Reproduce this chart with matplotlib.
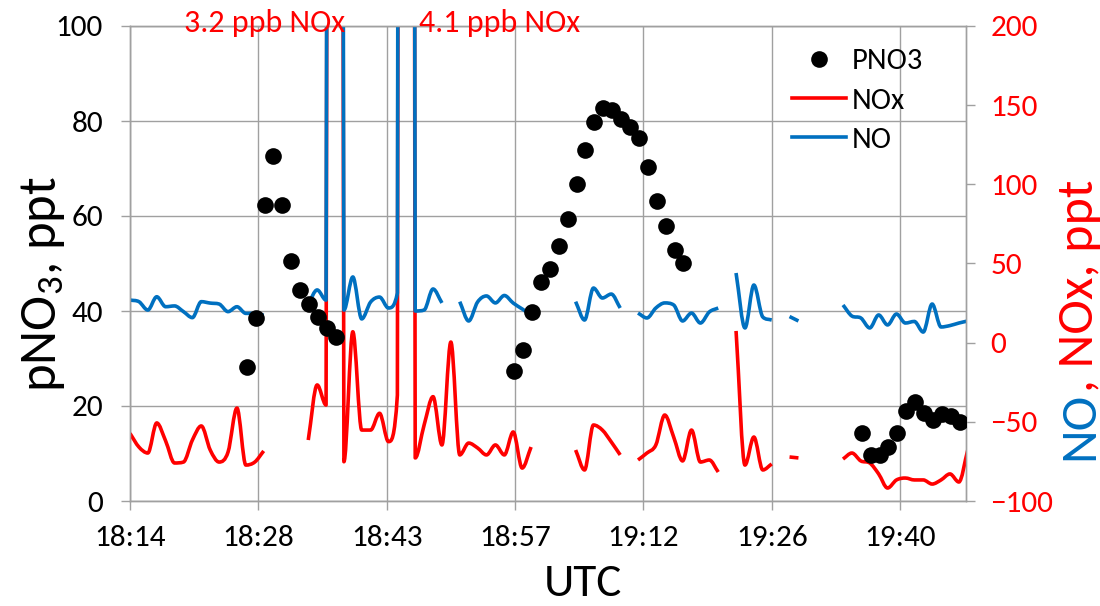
import numpy as np
import matplotlib
matplotlib.use("Agg")
import matplotlib.pyplot as plt
from matplotlib import font_manager as fm
from matplotlib.lines import Line2D
from matplotlib.patches import PathPatch
from matplotlib.path import Path
from matplotlib.ticker import FixedLocator, FuncFormatter, MultipleLocator


def have(name):
    try:
        fm.findfont(fm.FontProperties(family=name), fallback_to_default=False)
        return True
    except ValueError:
        return False


FONT = next(f for f in ["Carlito", "Liberation Sans Narrow", "Liberation Sans", "DejaVu Sans"] if have(f))
plt.rcParams.update({"font.family": [FONT, "DejaVu Sans"], "mathtext.default": "regular"})

# minutes after 18:00 UTC; NO/NOx are 1-min samples starting 18:14:24
t0 = 14.4
nox = [-57.3, -65.9, -69.7, -50.7, -62.1, -76.0, -75.4, -61.5, -52.6, -67.8, -75.4, -69.1, -41.3, -77.3, -75.4, -68.4,
       np.nan, np.nan, np.nan, np.nan,
       -61.5, -26.7, -39.4, 3200, -75.2, 6.9, -55.2, -55.2, -44.6, -62.5, -33.1, 4100, -72.8, -52.0, -34.1, -64.6,
       0.4, -70.9, -63.4, -66.5, -70.9, -64.6, -70.9, -56.4, -79.2, -65.9,
       np.nan, np.nan, np.nan, np.nan,
       -67.8, -80.4, -52.0, -55.2, -62.7, -70.9,
       np.nan,
       -74.1, -69.7, -64.6, -45.7, -59.6, -74.7, -55.2, -75.4, -74.1, -81.7,
       np.nan,
       7.4, -77.3, -59.6, -80.4, -76.6,
       np.nan,
       -72.2, -72.8,
       np.nan, np.nan, np.nan, np.nan,
       -73.5, -69.7, -74.7, -76.0, -82.9, -91.8, -86.7, -85.5, -86.7, -86.7, -89.3, -86.7, -82.9, -88.0, -67.8]
no = [26.9, 25.9, 20.6, 29.0, 22.7, 23.2, 19.6, 15.8, 25.9, 25.0, 24.4, 19.6, 22.7, 18.5, 18.5, 17.3,
      np.nan, np.nan, np.nan, np.nan,
      24.4, 33.3, 26.9, 3000, 20.6, 41.5, 15.0, 25.7, 28.8, 21.9, 31.4, 3900, 20.0, 20.6, 33.9, 25.1,
      np.nan, 25.9, 13.7, 25.7, 29.5, 25.1, 29.8, 25.0, 21.3, 17.5,
      np.nan, np.nan, np.nan, np.nan,
      25.9, 14.3, 34.5, 28.2, 30.7, 21.9,
      np.nan,
      18.7, 15.6, 21.9, 25.1, 23.8, 13.7, 18.7, 12.4, 19.4, 21.9,
      np.nan,
      44.0, 9.3, 36.4, 16.2, 14.3,
      np.nan,
      16.5, 13.7,
      np.nan, np.nan, np.nan, np.nan,
      23.8, 16.8, 15.6, 9.3, 17.5, 11.2, 18.1, 12.4, 13.4, 6.7, 24.4, 9.9, 10.8, 12.4, 13.7]
t_line = t0 + np.arange(len(nox))

# particulate nitrate, three sampling runs (start minute, 1-min values)
pno3_runs = [
    (27.5, [28.2, 38.6, 62.3, 72.7, 62.3, 50.6, 44.4, 41.4, 38.8, 36.4, 34.5]),
    (57.5, [27.4, 31.8, 39.7, 46.2, 48.8, 53.7, 59.3, 66.7, 73.8, 79.7, 82.7, 82.3, 80.5, 78.7, 76.4, 70.4,
            63.2, 57.8, 52.8, 50.1]),
    (96.5, [14.3, 9.7, 9.7, 11.3, 14.3, 19.0, 20.8, 18.6, 17.1, 18.4, 17.9, 16.6]),
]
x_ticks = [14.4, 28.8, 43.2, 57.6, 72.0, 86.4, 100.8]
notes = [(29.5, "3.2 ppb NOx"), (55.9, "4.1 ppb NOx")]

RED, BLUE, GRID = "#FF0000", "#0070C0", "#A0A0A0"
LW = 2.6


def smooth_path(x, y, spike=1000):
    """Excel-style smoothed line: cubic Bezier per segment, breaks at gaps,
    straight segments into/out of off-scale spikes."""
    x, y = np.asarray(x, float), np.asarray(y, float)
    verts, codes = [], []
    idx = np.flatnonzero(~np.isnan(y))
    runs = np.split(idx, np.flatnonzero(np.diff(idx) > 1) + 1)
    for r in runs:
        xs, ys = x[r], y[r]
        if len(xs) < 2:
            continue
        d = np.diff(ys) / np.diff(xs)
        m = np.empty_like(ys)
        m[0], m[-1] = d[0], d[-1]
        for i in range(1, len(ys) - 1):
            if d[i - 1] * d[i] <= 0:
                m[i] = 0.0
            else:
                m[i] = np.sign(d[i]) * min(abs(d[i - 1] + d[i]) / 2, 3 * min(abs(d[i - 1]), abs(d[i])))
        verts.append((xs[0], ys[0]))
        codes.append(Path.MOVETO)
        for i in range(len(xs) - 1):
            if max(abs(ys[i]), abs(ys[i + 1])) > spike:
                verts.append((xs[i + 1], ys[i + 1]))
                codes.append(Path.LINETO)
                continue
            h = (xs[i + 1] - xs[i]) / 3
            verts += [(xs[i] + h, ys[i] + m[i] * h), (xs[i + 1] - h, ys[i + 1] - m[i + 1] * h),
                      (xs[i + 1], ys[i + 1])]
            codes += [Path.CURVE4] * 3
    return Path(verts, codes)


fig = plt.figure(figsize=(11, 6.06), dpi=100)
ax = fig.add_axes([130 / 1100, 1 - 501 / 606, 836 / 1100, 475 / 606])
ax2 = ax.twinx()
ax3 = ax.twinx()

ax.set_xlim(14.4, 108.2)
ax.set_ylim(0, 100)
ax2.set_ylim(-100, 200)
ax3.set_ylim(0, 100)
ax3.axis("off")

ax.xaxis.set_major_locator(FixedLocator(x_ticks))
ax.xaxis.set_major_formatter(FuncFormatter(lambda m, _: f"{18 + int(m // 60)}:{int(m % 60 + 1e-6):02d}"))
ax.yaxis.set_major_locator(MultipleLocator(20))
ax2.yaxis.set_major_locator(MultipleLocator(50))
ax.grid(True, color=GRID, lw=1.0)
ax.set_axisbelow(True)

for a in (ax, ax2):
    for s in a.spines.values():
        s.set_color(GRID)
        s.set_linewidth(1.0)
ax.tick_params(axis="both", colors=GRID, labelcolor="black", labelsize=22.5, length=6.5, width=1.0)
ax.tick_params(axis="x", pad=11)
ax.tick_params(axis="y", pad=13)
ax2.tick_params(axis="y", colors=GRID, labelcolor=RED, labelsize=22.5, length=6.5, width=1.0, pad=11)

for series, col in ((nox, RED), (no, BLUE)):
    ax2.add_patch(PathPatch(smooth_path(t_line, series), fill=False, edgecolor=col, lw=LW,
                            capstyle="butt", joinstyle="round"))
for start, vals in pno3_runs:
    ax3.plot(start + np.arange(len(vals)), vals, "o", color="black", ms=12, mew=0, ls="none")

for x, s in notes:
    ax3.text(x, 100.6, s, color=RED, fontsize=23, ha="center", va="center", clip_on=False, zorder=10)

handles = [Line2D([], [], marker="o", color="black", ms=12, mew=0, ls="none"),
           Line2D([], [], color=RED, lw=LW),
           Line2D([], [], color=BLUE, lw=LW)]
ax3.legend(handles, ["PNO3", "NOx", "NO"], loc="upper left", bbox_to_anchor=(792 / 1100, 1 - 48 / 606),
           bbox_transform=fig.transFigure, frameon=False, fontsize=22, borderpad=0, borderaxespad=0,
           handlelength=1.76, handletextpad=0.2, labelspacing=0.42, numpoints=1)

fig.text(43 / 1100, 1 - 284 / 606, "pNO$_3$, ppt", rotation=90, fontsize=38, ha="center", va="center")
fig.text(583 / 1100, 1 - 583 / 606, "UTC", fontsize=34, ha="center", va="center")
t_no = fig.text(1079 / 1100, 1 - 460 / 606, "NO", rotation=90, fontsize=37.5, color=BLUE, ha="center", va="bottom")
ax3.annotate(", NOx, ppt", xy=(0.5, 1.0), xycoords=t_no, rotation=90, fontsize=37.5, color=RED,
             ha="center", va="bottom", annotation_clip=False)

fig.savefig("out.png", dpi=100)
